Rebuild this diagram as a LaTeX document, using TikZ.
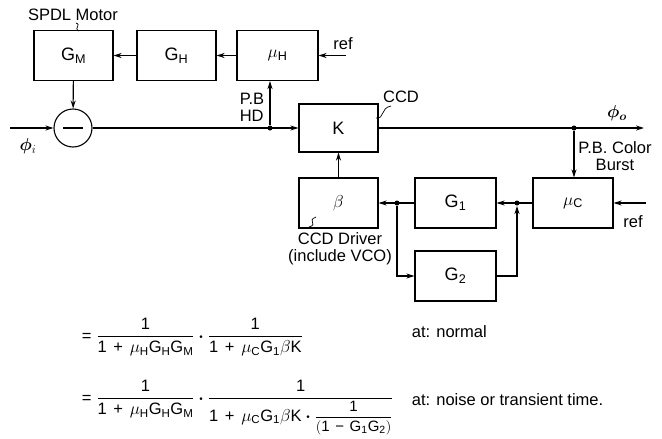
\documentclass[tikz,border=0pt]{standalone}
\usepackage{amsmath}
\usepackage{fontspec}
\setmainfont{Liberation Sans}
\usetikzlibrary{arrows.meta}

\newcommand{\gs}[2]{\mathrm{#1}_{\mathrm{#2}}}
\newcommand{\one}{\mathrm{1}}
\newcommand{\pl}{\mathbin{\,\text{+}\,}}
\newcommand{\mn}{\mathbin{\,\text{\char"2212}\,}}
\newcommand{\eq}{\mathrel{\text{=}}}
\newcommand{\dt}{\mathbin{\boldsymbol{\cdot}}}

\begin{document}
\begin{tikzpicture}[x=1pt, y=-1pt, >={Stealth[length=8pt,width=5pt]}, line width=1.1pt,
    font=\fontsize{16.5}{17}\selectfont,
    blk/.style={draw, minimum width=79pt, minimum height=50pt, inner sep=0pt, font=\fontsize{18}{20}\selectfont},
    dot/.style={circle, fill, inner sep=0pt, minimum size=5pt}]
                \useasboundingbox (0,0) rectangle (662,439);

                \node[blk] (GM) at (73.5,55.5) {$\gs{G}{M}$};
                \node[blk] (GH) at (176.5,55.5) {$\gs{G}{H}$};
                \node[blk, minimum width=81pt] (muH) at (277.5,55.5) {$\mu_{\mathrm{H}}$};
                \node[circle, draw, minimum size=38pt, inner sep=0pt] (sum) at (73,128) {};
                \draw[line width=1.6pt] ([xshift=-10pt]sum.center) -- ([xshift=10pt]sum.center);
                \node[blk, minimum height=48pt] (K) at (338.5,128) {K};
                \node[blk] (beta) at (338.5,203) {$\beta$};
                \node[blk, minimum width=81pt] (G1) at (455.5,203) {$\gs{G}{1}$};
                \node[blk, minimum width=81pt] (G2) at (455.5,276) {$\gs{G}{2}$};
                \node[blk, minimum width=80pt] (muC) at (573,203) {$\mu_{\mathrm{C}}$};

                \node[dot] (j1) at (270,128) {};
                \node[dot] (j2) at (574,128) {};
                \node[dot] (j3) at (517,203) {};
                \node[dot] (j4) at (397,203) {};
                \coordinate (in) at (10,128);
                \coordinate (out) at (644,128);
                \coordinate (refH) at (346,55.5);
                \coordinate (refC) at (646,203);

                \node (spdl) at (73,15) {SPDL Motor};
                \node (refHt) at (343,44) {ref};
                \node[align=left] (pbhd) at (252,107) {P.B\\HD};
                \node (phii) at (28,146) {$\boldsymbol{\phi}_{i}$};
                \node (ccd) at (401,97) {CCD};
                \node (phio) at (617,113) {$\boldsymbol{\phi}_{\boldsymbol{o}}$};
                \node[align=center] (pbcb) at (615,156) {P.B. Color\\Burst};
                \node (refCt) at (633,222) {ref};
                \node[align=center] (drv) at (340,249) {CCD Driver\\(include VCO)};

                \draw[->] (muH) -- (GH);
                \draw[->] (GH) -- (GM);
                \draw[->] (refH) -- (muH.east);
                \draw[->] (GM) -- (sum);
                \draw[->] (in) -- (sum);
                \draw[->] (sum) -- (K);
                \draw[->] (j1) -- (j1 |- muH.south);
                \draw[->] (K) -- (out);
                \draw[->] (j2) -- (j2 |- muC.north);
                \draw[->] (refC) -- (muC);
                \draw[->] (muC) -- (G1);
                \draw[->] (G1) -- (beta);
                \draw[->] (j4) |- (G2);
                \draw[->] (G2) -| (j3);
                \draw[->] (beta) -- (K);

                \draw[line width=0.7pt] (76,23) .. controls (82,25) and (73,28) .. (79,31);
                \draw[line width=0.7pt] (376,118) .. controls (385,119) and (380,108) .. (391,106);
                \draw[line width=0.7pt] (316,217) .. controls (306,221) and (319,224) .. (309,227);

                \node[anchor=base west] (eqA) at (78,341) {$\displaystyle \eq \frac{\one}{\one \pl \mu_{\mathrm{H}}\gs{G}{H}\gs{G}{M}} \dt \frac{\one}{\one \pl \mu_{\mathrm{C}}\gs{G}{1}\beta\mathrm{K}}$};
                \node[anchor=base west] (eqB) at (78,403) {$\displaystyle \eq \frac{\one}{\one \pl \mu_{\mathrm{H}}\gs{G}{H}\gs{G}{M}} \dt \frac{\one}{\one \pl \mu_{\mathrm{C}}\gs{G}{1}\beta\mathrm{K} \dt \text{\fontsize{15}{16}\selectfont$\dfrac{\one}{(\one \mn \gs{G}{1}\gs{G}{2})}$}}$};
                \node[anchor=base west] (noteA) at (408,337) {at: normal};
                \node[anchor=base west] (noteB) at (408,405) {at: noise or transient time.};
            \end{tikzpicture}
\end{document}
